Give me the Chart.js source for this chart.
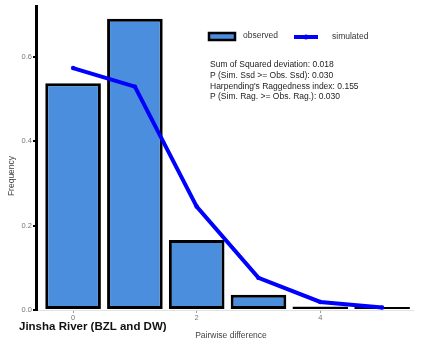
<!DOCTYPE html>
<html>
<head>
<meta charset="utf-8">
<script src="https://cdn.jsdelivr.net/npm/chart.js@4/dist/chart.umd.min.js"></script>
<style>
  html, body { margin: 0; padding: 0; background: #fff; }
  #wrap { width: 425px; height: 346px; position: relative; }
</style>
</head>
<body>
<div id="wrap"><canvas id="c"></canvas></div>
<script>
// Mismatch distribution, Jinsha River (BZL and DW)
const pairwiseDiff = [0, 1, 2, 3, 4, 5];
const observed  = [0.537, 0.690, 0.166, 0.036, 0.008, 0.007];
const simulated = [0.573, 0.529, 0.245, 0.076, 0.019, 0.006];
const xTickValues = [0, 2, 4];
const yTickValues = [0, 0.2, 0.4, 0.6];
const seriesNames = ['observed', 'simulated'];
const panelTitle = 'Jinsha River (BZL and DW)';
const xTitle = 'Pairwise difference';
const yTitle = 'Frequency';
const statLines = [
  'Sum of Squared deviation: 0.018',
  'P (Sim. Ssd >= Obs. Ssd): 0.030',
  "Harpending's Raggedness index: 0.155",
  'P (Sim. Rag. >= Obs. Rag.): 0.030'
];

const FONT = '"Liberation Sans", Arial, sans-serif';
const BAR_FILL = '#4a8edd';
const LINE_BLUE = '#0000ff';

// Legend, statistics and axis captions drawn on top of the chart
const annotations = {
  id: 'annotations',
  afterDraw(chart) {
    const ctx = chart.ctx;
    ctx.save();

    // legend: observed
    ctx.fillStyle = BAR_FILL;
    ctx.fillRect(209, 33, 26, 7);
    ctx.lineWidth = 2.5;
    ctx.strokeStyle = '#000';
    ctx.strokeRect(209, 33, 26, 7);
    ctx.fillStyle = '#333';
    ctx.font = '8.5px ' + FONT;
    ctx.textBaseline = 'middle';
    ctx.textAlign = 'left';
    ctx.fillText(seriesNames[0], 243, 36);

    // legend: simulated
    ctx.strokeStyle = LINE_BLUE;
    ctx.lineWidth = 4;
    ctx.beginPath();
    ctx.moveTo(294, 37);
    ctx.lineTo(318, 37);
    ctx.stroke();
    ctx.fillStyle = LINE_BLUE;
    ctx.beginPath();
    ctx.arc(306, 37, 2.5, 0, Math.PI * 2);
    ctx.fill();
    ctx.fillStyle = '#333';
    ctx.fillText(seriesNames[1], 332, 37);

    // statistics block
    ctx.fillStyle = '#222';
    ctx.font = '8.5px ' + FONT;
    statLines.forEach((t, i) => ctx.fillText(t, 210, 65 + i * 10.6));

    // axis titles
    ctx.fillStyle = '#444';
    ctx.font = '8.5px ' + FONT;
    ctx.textAlign = 'center';
    ctx.fillText(xTitle, 231, 336);
    ctx.save();
    ctx.translate(12, 176);
    ctx.rotate(-Math.PI / 2);
    ctx.fillText(yTitle, 0, 0);
    ctx.restore();

    // panel caption
    ctx.fillStyle = '#111';
    ctx.font = 'bold 11.5px ' + FONT;
    ctx.textAlign = 'left';
    ctx.fillText(panelTitle, 19, 327);

    ctx.restore();
  }
};

new Chart(document.getElementById('c'), {
  data: {
    datasets: [
      {
        type: 'line',
        label: seriesNames[1],
        data: pairwiseDiff.map((x, i) => ({ x, y: simulated[i] })),
        borderColor: LINE_BLUE,
        backgroundColor: LINE_BLUE,
        borderWidth: 4,
        pointRadius: 2.2,
        pointBorderWidth: 0,
        tension: 0,
        order: 0
      },
      {
        type: 'bar',
        label: seriesNames[0],
        data: pairwiseDiff.map((x, i) => ({ x, y: observed[i] })),
        backgroundColor: BAR_FILL,
        borderColor: '#000',
        borderWidth: 3,
        borderSkipped: false,
        barPercentage: 0.9,
        categoryPercentage: 1.0,
        order: 1
      }
    ]
  },
  options: {
    responsive: true,
    maintainAspectRatio: false,
    animation: false,
    layout: { padding: { left: 0, right: 12, top: 6, bottom: 0 } },
    plugins: {
      legend: { display: false },
      tooltip: { enabled: false }
    },
    scales: {
      x: {
        type: 'linear',
        min: -0.6,
        max: 5.5,
        offset: false,
        afterFit(s) { s.height = 36; },
        afterBuildTicks(s) { s.ticks = xTickValues.map(v => ({ value: v })); },
        ticks: {
          color: '#777',
          font: { family: FONT, size: 7.5 },
          padding: 0,
          maxRotation: 0,
          callback: v => String(v)
        },
        grid: {
          offset: false,
          drawOnChartArea: false,
          drawTicks: true,
          tickLength: 3,
          color: '#999',
          lineWidth: 1
        },
        border: { display: true, color: '#e2e2e2', width: 1 }
      },
      y: {
        type: 'linear',
        min: 0,
        max: 0.72,
        afterFit(s) { s.width = 36; },
        afterBuildTicks(s) { s.ticks = yTickValues.map(v => ({ value: v })); },
        ticks: {
          color: '#777',
          font: { family: FONT, size: 7.5 },
          padding: 1,
          callback: v => Number(v).toFixed(1)
        },
        grid: {
          drawOnChartArea: false,
          drawTicks: true,
          tickLength: 3,
          color: '#000',
          lineWidth: 2
        },
        border: { display: true, color: '#000', width: 3 }
      }
    }
  },
  plugins: [annotations]
});
</script>
</body>
</html>
